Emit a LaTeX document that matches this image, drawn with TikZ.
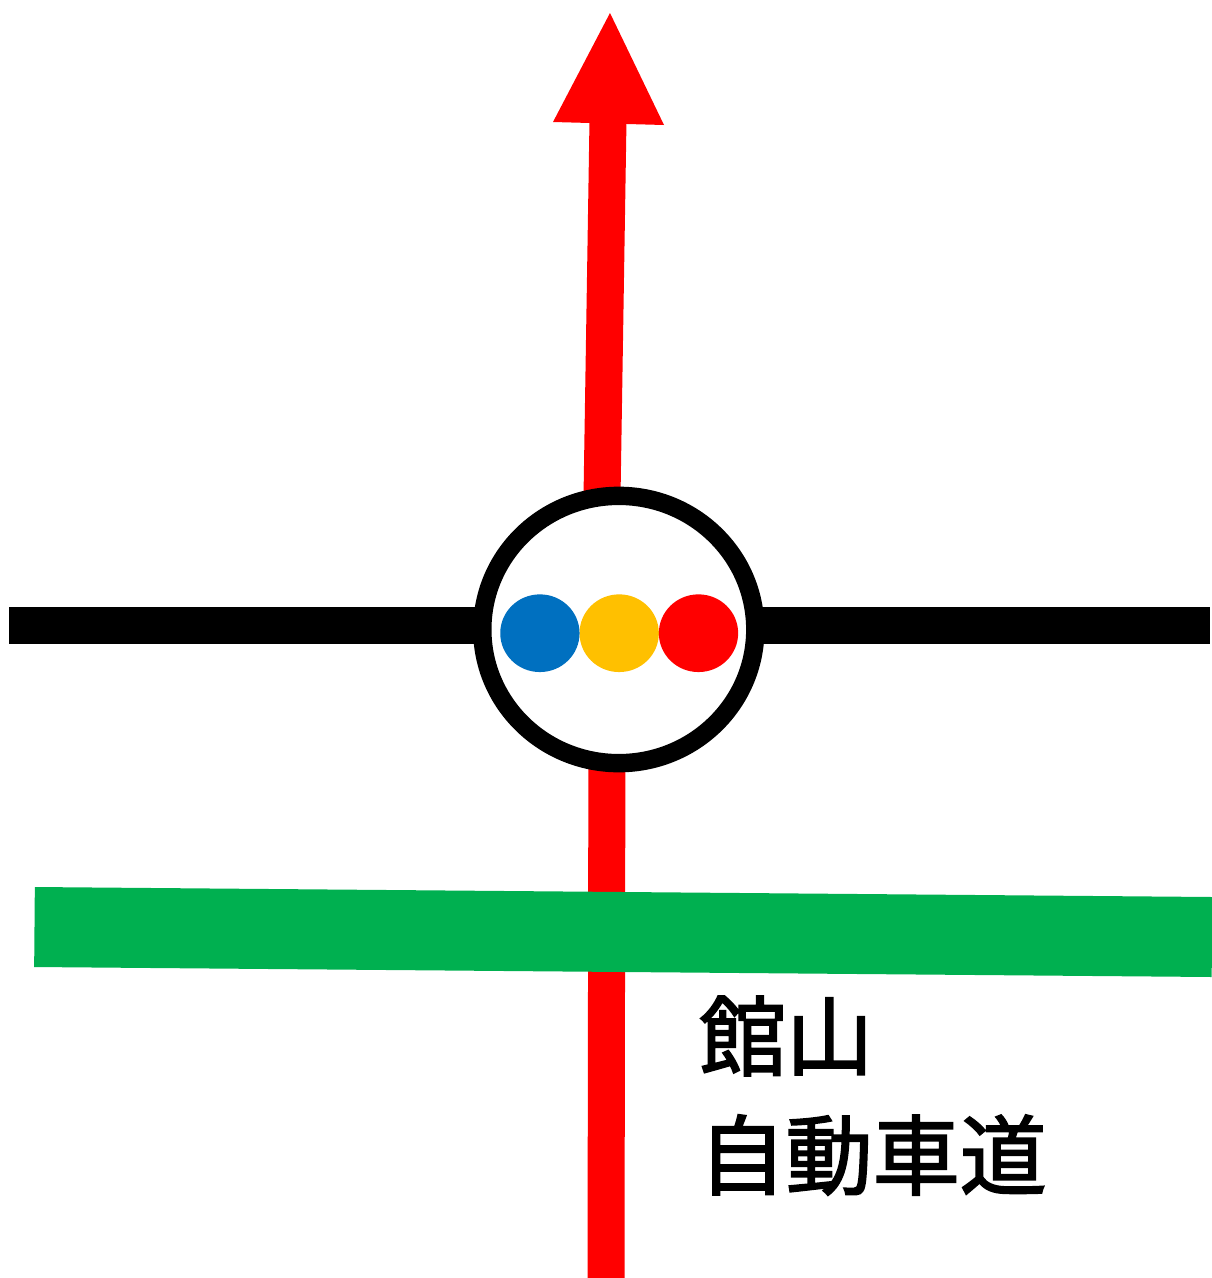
\documentclass[tikz,border=0pt]{standalone}
\usepackage{fontspec}
\newfontfamily\jpfont[FakeBold=2]{Noto Sans CJK JP}
\usetikzlibrary{shapes.geometric, positioning, calc}

\definecolor{lineblue}{RGB}{0,112,192}
\definecolor{lineyellow}{RGB}{255,192,0}
\definecolor{linered}{RGB}{255,0,0}
\definecolor{linegreen}{RGB}{0,176,80}

\begin{document}
\begin{tikzpicture}
            [x=1pt, y=-1pt,
            redline/.style={draw=linered, line width=37pt},
            crossline/.style={draw=black, line width=37.3pt},
            roadline/.style={draw=linegreen, line width=80pt},
            stopdot/.style={ellipse, minimum width=79.3pt, minimum height=77.7pt, inner sep=0pt, outer sep=0pt},
            station/.style={ellipse, draw=black, fill=white, line width=18.4pt, minimum width=273pt, minimum height=267.3pt, inner sep=0pt, outer sep=0pt},
            roadname/.style={font=\jpfont\fontsize{87}{100}\selectfont, inner sep=0pt, anchor=west}]
            \useasboundingbox (0,0) rectangle (1212,1278);

            \coordinate (redbottom) at (606,1278);
            \coordinate (redlow) at (607,700);
            \coordinate (redhigh) at (601,560);
            \coordinate (redtop) at (608,120);
            \coordinate (headtip) at (610,13);
            \coordinate (headleft) at (553,122);
            \coordinate (headright) at (664,125);
            \coordinate (crossleft) at (9,625.3);
            \coordinate (crossright) at (1210,625.3);
            \coordinate (roadleft) at (34.5,927);
            \coordinate (roadright) at (1212,937);

            \draw[redline] (redbottom) -- (redlow);
            \draw[redline] (redhigh) -- (redtop);
            \fill[linered] (headtip) -- (headleft) -- (headright) -- cycle;
            \draw[roadline] (roadleft) -- (roadright);
            \draw[crossline] (crossleft) -- (crossright);

            \node[station] (junction) at (618.8,629.5) {};
            \node[stopdot, fill=lineyellow] (dotyellow) at (619.2,633.2) {};
            \node[stopdot, fill=lineblue, left=0pt of dotyellow] (dotblue) {};
            \node[stopdot, fill=linered, right=0pt of dotyellow] (dotred) {};

            \node[roadname] (nameone) at (699,1036) {館山};
            \node[roadname] (nametwo) at (698.5,1155) {自動車道};
        \end{tikzpicture}
\end{document}
